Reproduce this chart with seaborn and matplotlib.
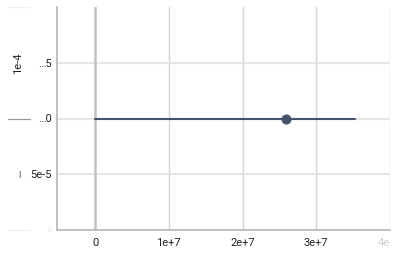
import matplotlib
matplotlib.use("Agg")
import matplotlib.pyplot as plt
import seaborn as sns
import pandas as pd
from matplotlib.lines import Line2D

# Data
line_x = [0, 3.52e7]
line_y = [1e-4, 1e-4]
point_x = [2.59e7]
point_y = [1e-4]
x_ticks = [0, 1e7, 2e7, 3e7, 4e7]
x_tick_labels = ["0", "1e+7", "2e+7", "3e+7", "4e"]
y_ticks = [0, 5e-5, 1e-4, 1.5e-4]
y_tick_labels = ["0", "5e-5", "\u20260", "\u20265"]

sns.set_theme(style="white")
plt.rcParams["font.family"] = ["Roboto", "DejaVu Sans"]

fig = plt.figure(figsize=(3.97, 2.61), dpi=100)
ax = fig.add_axes([57/397, 31/261, 333/397, 223/261])

df_line = pd.DataFrame({"x": line_x, "y": line_y})
df_pt = pd.DataFrame({"x": point_x, "y": point_y})

color = "#44536b"
sns.lineplot(data=df_line, x="x", y="y", ax=ax, color=color, linewidth=1.5, zorder=5)
sns.scatterplot(data=df_pt, x="x", y="y", ax=ax, color=color, s=45, edgecolor=color, zorder=6)

ax.set_xlim(-5.16e6, 4.0e7)
ax.set_ylim(0, 2e-4)
ax.set_xticks(x_ticks)
ax.set_xticklabels(x_tick_labels)
ax.set_yticks(y_ticks)
ax.set_yticklabels(y_tick_labels)
ax.set_xlabel("")
ax.set_ylabel("")

for xv in x_ticks[1:]:
    ax.axvline(xv, color="#d4d4d4", linewidth=1.0, zorder=1)
for yv in y_ticks[1:]:
    ax.axhline(yv, color="#e6e6e6", linewidth=1.5, zorder=1)
ax.axvline(0, color="#c2c2c2", linewidth=1.8, zorder=2)

for s in ["top", "right"]:
    ax.spines[s].set_visible(False)
for s in ["left", "bottom"]:
    ax.spines[s].set_color("#b5b5b5")
    ax.spines[s].set_linewidth(1.2)

ax.tick_params(axis="both", length=0, labelsize=8, colors="#222222")
ax.tick_params(axis="x", pad=6)
ax.tick_params(axis="y", pad=4)
ax.get_xticklabels()[-1].set_color("#cccccc")
ax.get_xticklabels()[-1].set_horizontalalignment("right")
ax.get_yticklabels()[0].set_color("#dddddd")
ax.get_yticklabels()[0].set_fontsize(5)

# left-side decorations
fig.text(18/397, 1 - 63/261, "1e-4", rotation=90, ha="center", va="center",
         fontsize=8, color="#222222")
fig.text(19/397, 1 - 176/261, "I", ha="center", va="center", fontsize=6.5, color="#444444")
fig.add_artist(Line2D([8/397, 30/397], [1 - 119/261, 1 - 119/261],
                      color="#9a9a9a", linewidth=0.9))
fig.add_artist(Line2D([8/397, 30/397], [1 - 7/261, 1 - 7/261],
                      color="#f0f0f0", linewidth=0.9))
fig.add_artist(Line2D([8/397, 30/397], [1 - 230/261, 1 - 230/261],
                      color="#f0f0f0", linewidth=0.9))

fig.savefig("out.png", dpi=100)
